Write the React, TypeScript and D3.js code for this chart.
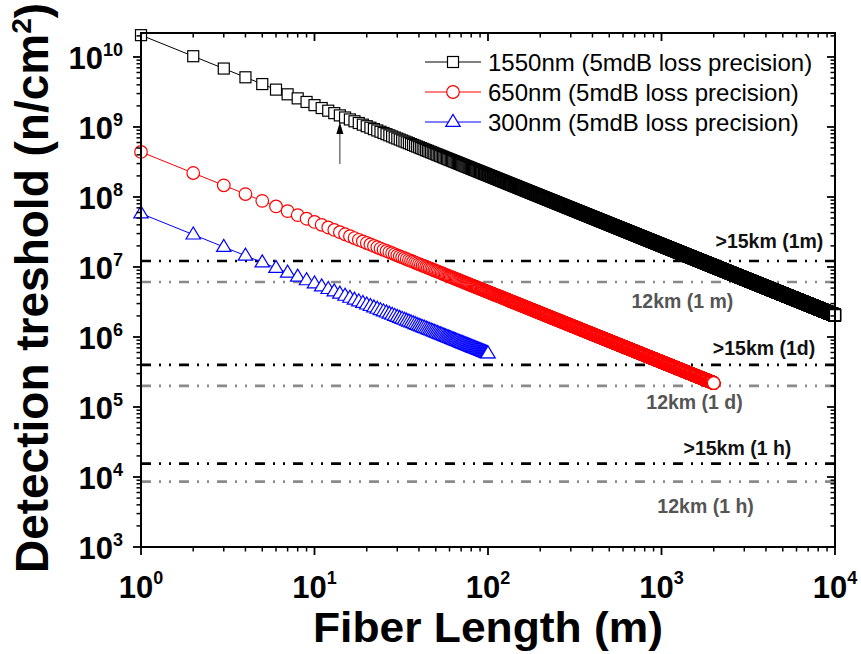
import React from 'react';
import * as d3 from 'd3';

// ---------- data ----------
const seriesLabels = [
  '1550nm (5mdB loss precision)',
  '650nm (5mdB loss precision)',
  '300nm (5mdB loss precision)',
];
const seriesColors = ['#000000', '#ff0000', '#0000ff'];
const seriesShapes = ['square', 'circle', 'triangle'];

// Detection threshold (n/cm²) read at decade fibre lengths (m); markers every 1 m
const len1550 = [1, 10, 100, 1000, 10000];
const val1550 = [2.05e10, 2.05e9, 2.05e8, 2.05e7, 2.05e6];
const len650 = [1, 10, 100, 1000, 2000];
const val650 = [4.4e8, 4.4e7, 4.4e6, 4.4e5, 2.2e5];
const len300 = [1, 10, 100];
const val300 = [5.8e7, 5.8e6, 5.8e5];

// Reference levels
const refLabels = ['>15km (1m)', '12km (1 m)', '>15km (1d)', '12km (1 d)', '>15km (1 h)', '12km (1 h)'];
const refValues = [1.22e7, 6.1e6, 4.0e5, 2.0e5, 1.55e4, 8.6e3];
const refKinds = ['dark', 'grey', 'dark', 'grey', 'dark', 'grey'];
const refLabelLengths = [4190, 1320, 3900, 1550, 2740, 1795];
const refLabelOffsets = [-13, 26, -10, 23, -9, 31];

const arrowLength = 14; // fibre length the arrow points at (m)

// Axis ticks
const xDecades = [0, 1, 2, 3, 4];
const yDecades = [3, 4, 5, 6, 7, 8, 9, 10];
const xDomain = [1, 1e4];
const yDomain = [1e3, 2.2e10];

// ---------- layout ----------
const W = 861;
const H = 654;
const L = 141;
const R = 835;
const T = 33;
const B = 547;
const FONT = '"Liberation Sans", Arial, Helvetica, sans-serif';

const x = d3.scaleLog().domain(xDomain).range([L, R]);
const y = d3.scaleLog().domain(yDomain).range([B, T]);

function densePoints(lens: number[], vals: number[]) {
  const interp = d3
    .scaleLog()
    .domain(lens)
    .range(vals.map((v) => Math.log10(v)));
  const last = lens[lens.length - 1];
  return d3.range(1, last + 1).map((l) => ({ l, v: Math.pow(10, interp(l)) }));
}

const seriesData = [
  densePoints(len1550, val1550),
  densePoints(len650, val650),
  densePoints(len300, val300),
];

function marker(shape: string, cx: number, cy: number, color: string, key?: any) {
  const sw = 1.2;
  if (shape === 'square') {
    return <rect key={key} x={cx - 5.5} y={cy - 5.5} width={11} height={11} fill="#fff" stroke={color} strokeWidth={sw} />;
  }
  if (shape === 'circle') {
    return <circle key={key} cx={cx} cy={cy} r={6.3} fill="#fff" stroke={color} strokeWidth={sw} />;
  }
  const p = `M${cx},${cy - 7.6}L${cx - 7.2},${cy + 4.4}L${cx + 7.2},${cy + 4.4}Z`;
  return <path key={key} d={p} fill="#fff" stroke={color} strokeWidth={sw} />;
}

function minorValues(decades: number[], maxV: number) {
  const out: number[] = [];
  decades.forEach((d) => {
    for (let m = 2; m <= 9; m++) {
      const v = m * Math.pow(10, d);
      if (v <= maxV) out.push(v);
    }
  });
  return out;
}

export default function App() {
  const line = d3
    .line<{ l: number; v: number }>()
    .x((d) => x(d.l))
    .y((d) => y(d.v));

  const xMinor = minorValues(xDecades.slice(0, -1), xDomain[1]);
  const yMinor = minorValues(yDecades, yDomain[1]);

  const majLen = 8;
  const minLen = 4.5;

  const arrowV = seriesData[0][arrowLength - 1].v;
  const ax = x(arrowLength);
  const aTip = y(arrowV) + 6.5;

  return (
    <svg
      width={W}
      height={H}
      style={{ position: 'absolute', left: 0, top: 0, background: '#fff' }}
      fontFamily={FONT}
    >
      <rect x={0} y={0} width={W} height={H} fill="#fff" />

      {/* reference lines */}
      {refValues.map((v, i) => (
        <line
          key={'ref' + i}
          x1={L}
          x2={R}
          y1={y(v)}
          y2={y(v)}
          stroke={refKinds[i] === 'dark' ? '#000' : '#8a8a8a'}
          strokeWidth={2.6}
          strokeDasharray="10,8,2,8,2,8"
        />
      ))}
      {refLabels.map((t, i) => (
        <text
          key={'refl' + i}
          x={x(refLabelLengths[i])}
          y={y(refValues[i]) + refLabelOffsets[i]}
          textAnchor="middle"
          fontWeight="bold"
          fontSize={19.5}
          fill={refKinds[i] === 'dark' ? '#111' : '#555'}
        >
          {t}
        </text>
      ))}

      {/* series */}
      {seriesData.map((pts, si) => (
        <g key={'s' + si}>
          <path d={line(pts) || ''} fill="none" stroke={seriesColors[si]} strokeWidth={1} />
          {pts.map((p, i) => marker(seriesShapes[si], x(p.l), y(p.v), seriesColors[si], i))}
        </g>
      ))}

      {/* arrow */}
      <line x1={ax} x2={ax} y1={aTip + 10} y2={aTip + 42} stroke="#555" strokeWidth={1.2} />
      <path d={`M${ax},${aTip}L${ax - 3.5},${aTip + 12}L${ax + 3.5},${aTip + 12}Z`} fill="#000" />

      {/* frame */}
      <rect x={L} y={T} width={R - L} height={B - T} fill="none" stroke="#000" strokeWidth={2} />

      {/* x ticks: bottom outward, top inward */}
      {xDecades.map((d) => {
        const px = x(Math.pow(10, d));
        return (
          <g key={'xM' + d}>
            <line x1={px} x2={px} y1={B} y2={B + majLen} stroke="#000" strokeWidth={1.8} />
            <line x1={px} x2={px} y1={T} y2={T + majLen} stroke="#000" strokeWidth={1.8} />
            <text x={px} y={B + 51} textAnchor="middle" fontWeight="bold" fontSize={31} fill="#000">
              10
              <tspan dy={-14} fontSize={18}>
                {d}
              </tspan>
            </text>
          </g>
        );
      })}
      {xMinor.map((v, i) => {
        const px = x(v);
        return (
          <g key={'xm' + i}>
            <line x1={px} x2={px} y1={B} y2={B + minLen} stroke="#000" strokeWidth={1.5} />
            <line x1={px} x2={px} y1={T} y2={T + minLen} stroke="#000" strokeWidth={1.5} />
          </g>
        );
      })}

      {/* y ticks: left outward, right inward */}
      {yDecades.map((d) => {
        const py = y(Math.pow(10, d));
        return (
          <g key={'yM' + d}>
            <line x1={L - majLen} x2={L} y1={py} y2={py} stroke="#000" strokeWidth={1.8} />
            <line x1={R - majLen} x2={R} y1={py} y2={py} stroke="#000" strokeWidth={1.8} />
            <text x={123} y={py + 12} textAnchor="end" fontWeight="bold" fontSize={31} fill="#000">
              10
              <tspan dy={-13} fontSize={18}>
                {d}
              </tspan>
            </text>
          </g>
        );
      })}
      {yMinor.map((v, i) => {
        const py = y(v);
        return (
          <g key={'ym' + i}>
            <line x1={L - minLen} x2={L} y1={py} y2={py} stroke="#000" strokeWidth={1.5} />
            <line x1={R - minLen} x2={R} y1={py} y2={py} stroke="#000" strokeWidth={1.5} />
          </g>
        );
      })}

      {/* axis titles */}
      <text
        x={(L + R) / 2}
        y={642}
        textAnchor="middle"
        fontWeight="bold"
        fontSize={43}
        fill="#000"
        textLength={350}
        lengthAdjust="spacingAndGlyphs"
      >
        Fiber Length (m)
      </text>
      <text
        transform={`translate(48,${(T + B) / 2 - 2}) rotate(-90)`}
        textAnchor="middle"
        fontWeight="bold"
        fontSize={46}
        fill="#000"
      >
        Detection treshold (n/cm
        <tspan dy={-17} fontSize={28}>
          2
        </tspan>
        <tspan dy={17}>)</tspan>
      </text>

      {/* legend */}
      {seriesLabels.map((t, i) => {
        const cy = 62 + i * 30;
        return (
          <g key={'lg' + i}>
            <line x1={425} x2={481} y1={cy} y2={cy} stroke={seriesColors[i]} strokeWidth={1} />
            {marker(seriesShapes[i], 453, cy, seriesColors[i])}
            <text x={488} y={cy + 8.5} fontSize={24} fill="#000">
              {t}
            </text>
          </g>
        );
      })}
    </svg>
  );
}
